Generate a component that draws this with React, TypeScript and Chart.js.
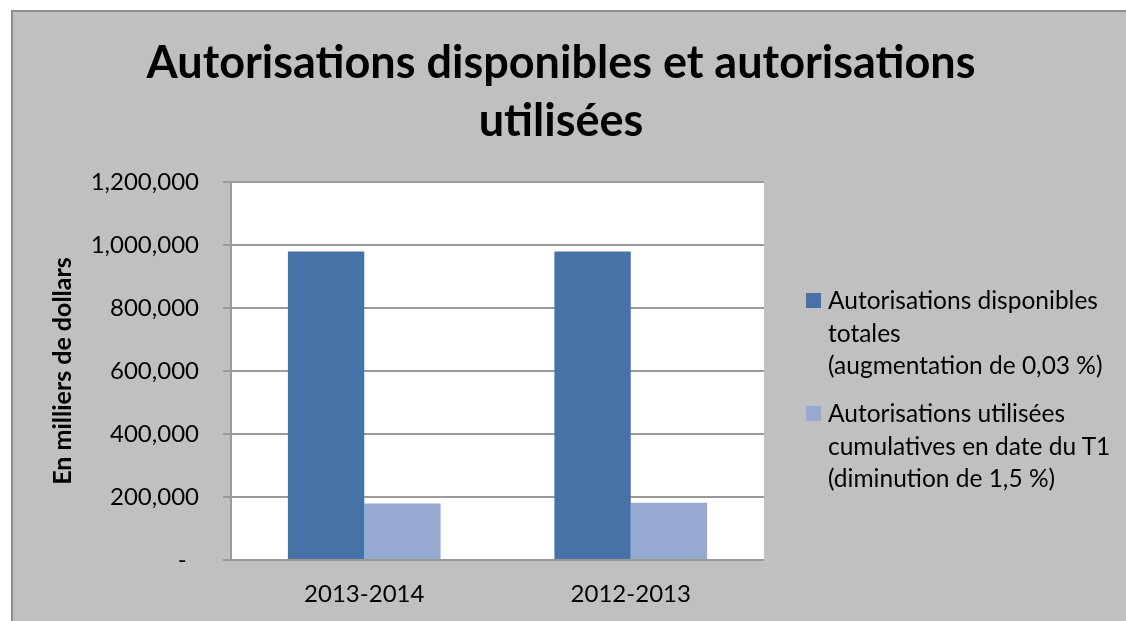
import React, { useEffect, useRef } from "react";
import { Chart, registerables } from "chart.js";

Chart.register(...registerables);

const categories: string[] = ["2013-2014", "2012-2013"];
const availableValues: number[] = [979500, 979200];
const usedValues: number[] = [179000, 181800];
const seriesLabelLines: string[][] = [
  ["Autorisations disponibles", "totales", "(augmentation de 0,03 %)"],
  ["Autorisations utilisées", "cumulatives en date du T1", "(diminution de 1,5 %)"],
];
const seriesColors: string[] = ["#4672A8", "#95A9D1"];
const titleLines: string[] = ["Autorisations disponibles et autorisations", "utilisées"];
const yAxisTitle = "En milliers de dollars";
const yMin = 0;
const yMax = 1200000;
const yStep = 200000;

const FONT = "Lato, 'Open Sans', sans-serif";
const CANVAS_W = 1113;
const CANVAS_H = 609;

const plotBackground = {
  id: "plotBackground",
  beforeDraw(chart: any) {
    const { ctx, chartArea } = chart;
    if (!chartArea) return;
    ctx.save();
    ctx.fillStyle = "#FFFFFF";
    ctx.fillRect(chartArea.left, chartArea.top, chartArea.right - chartArea.left, chartArea.bottom - chartArea.top);
    ctx.restore();
  },
};

export default function App() {
  const canvasRef = useRef<HTMLCanvasElement | null>(null);

  useEffect(() => {
    document.body.style.overflow = "hidden";
    const canvas = canvasRef.current;
    if (!canvas) return;
    const chart = new Chart(canvas, {
      type: "bar",
      data: {
        labels: categories,
        datasets: [
          {
            label: seriesLabelLines[0].join(" "),
            data: availableValues,
            backgroundColor: seriesColors[0],
            borderWidth: 0,
          },
          {
            label: seriesLabelLines[1].join(" "),
            data: usedValues,
            backgroundColor: seriesColors[1],
            borderWidth: 0,
          },
        ],
      },
      options: {
        responsive: false,
        animation: false,
        devicePixelRatio: 1,
        layout: { padding: { left: 0, right: 17, top: 0, bottom: 0 } },
        datasets: {
          bar: { categoryPercentage: 0.573, barPercentage: 1.0 },
        },
        plugins: {
          legend: { display: false },
          tooltip: { enabled: false },
          title: {
            display: true,
            text: titleLines,
            color: "#000000",
            font: { family: FONT, size: 45, weight: "bold", lineHeight: 1.289 },
            padding: { top: 22, bottom: 32 },
          },
        },
        scales: {
          x: {
            grid: { display: false, drawTicks: false },
            border: { display: false },
            ticks: {
              color: "#000000",
              font: { family: FONT, size: 24 },
              padding: 20,
            },
            afterFit: (s: any) => {
              s.height = 61;
            },
          },
          y: {
            min: yMin,
            max: yMax,
            grid: {
              color: "#9A9A9A",
              lineWidth: 2,
              drawTicks: true,
              tickLength: 8,
              tickColor: "#9A9A9A",
            },
            border: { display: true, color: "#9A9A9A", width: 2 },
            ticks: {
              stepSize: yStep,
              color: "#000000",
              font: { family: FONT, size: 24 },
              padding: 24,
              callback: (v: any) => (Number(v) === 0 ? "-  " : Number(v).toLocaleString("en-US")),
            },
            title: {
              display: true,
              text: yAxisTitle,
              color: "#000000",
              font: { family: FONT, size: 25, weight: "bold" },
              padding: { top: 35, bottom: 0 },
            },
            afterFit: (s: any) => {
              s.width = 218;
            },
          },
          legendSpace: {
            type: "linear",
            position: "right",
            display: true,
            grid: { display: false, drawTicks: false },
            border: { display: false },
            ticks: { display: false },
            afterFit: (s: any) => {
              s.width = 345;
            },
          },
        },
      },
      plugins: [plotBackground],
    } as any);
    return () => chart.destroy();
  }, []);

  return (
    <div
      style={{
        position: "absolute",
        left: 11,
        top: 10,
        width: 1115,
        height: 611,
        boxSizing: "border-box",
        background: "#C0C0C0",
        borderTop: "2px solid #8E8E8E",
        borderLeft: "2px solid #8E8E8E",
        overflow: "hidden",
      }}
    >
      <canvas
        ref={canvasRef}
        width={CANVAS_W}
        height={CANVAS_H}
        style={{ position: "absolute", left: 0, top: 0, width: CANVAS_W, height: CANVAS_H }}
      />
      <div
        style={{
          position: "absolute",
          left: 793,
          top: 272,
          fontFamily: FONT,
          fontSize: 24.5,
          lineHeight: "32.5px",
          color: "#000000",
        }}
      >
        {seriesLabelLines.map((lines, i) => (
          <div key={i} style={{ position: "relative", paddingLeft: 22, marginBottom: 15.5, whiteSpace: "nowrap" }}>
            <span
              style={{
                position: "absolute",
                left: 0,
                top: 9,
                width: 15,
                height: 15,
                background: seriesColors[i],
              }}
            />
            {lines.map((l, j) => (
              <div key={j}>{l}</div>
            ))}
          </div>
        ))}
      </div>
    </div>
  );
}
